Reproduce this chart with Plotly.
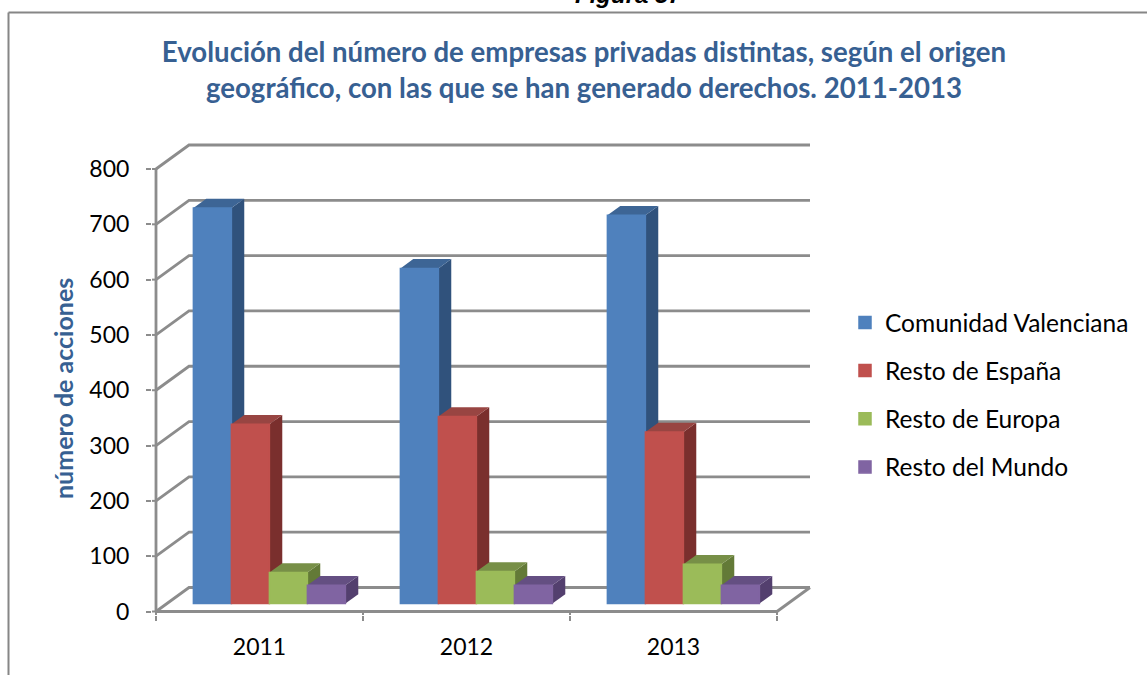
import plotly.graph_objects as go

years = ["2011", "2012", "2013"]
series_names = ["Comunidad Valenciana", "Resto de España", "Resto de Europa", "Resto del Mundo"]
comunidad = [715, 606, 702]
resto_espana = [324, 338, 310]
resto_europa = [56, 58, 71]
resto_mundo = [33, 33, 33]
series_values = [comunidad, resto_espana, resto_europa, resto_mundo]
y_ticks = [0, 100, 200, 300, 400, 500, 600, 700, 800]

front_colors = ["#4F81BD", "#C0504D", "#9BBB59", "#8064A2"]
side_colors = ["#30527C", "#7A2F2D", "#637A37", "#533F6E"]
top_colors = ["#3D6595", "#984542", "#778F47", "#644F82"]
TITLE_COLOR = "#376092"
GRID = "#8C8C8C"

W, H = 1147, 675
X0_PX, Y0_PX = 156, 611.5       # pixel of the axes origin (front corner)
L, R, T, B = 152, 815, 140, 615
PX_PER_CAT = 207
PX_PER_VAL = 442.5 / 800
DX = 33 / PX_PER_CAT      # depth of the 3D box, category units
DY = 24 / PX_PER_VAL      # depth of the 3D box, value units
D0, D1 = 0.33, 0.72       # depth span of the bars
BAR_W = 0.1836
START = 0.128

xr = [(L - X0_PX) / PX_PER_CAT, (R - X0_PX) / PX_PER_CAT]
yr = [(Y0_PX - B) / PX_PER_VAL, (Y0_PX - T) / PX_PER_VAL]

fig = go.Figure()

# walls
gx, gy = [], []
for v in y_ticks:
    gx += [0, DX, 3 + DX, None]
    gy += [v, v + DY, v + DY, None]
gx += [0, 0, None, 0, 3, None, 3, 3 + DX, None]
gy += [0, 800, None, 0, 0, None, 0, DY, None]
fig.add_trace(go.Scatter(x=gx, y=gy, mode="lines", line=dict(color=GRID, width=2.8),
                         showlegend=False, hoverinfo="skip"))
# short stubs joining the native ticks to the axis lines
sx, sy = [], []
for v in y_ticks:
    sx += [xr[0], 0, None]
    sy += [v, v, None]
for c in [0, 1, 2, 3]:
    sx += [c, c, None]
    sy += [yr[0], 0, None]
fig.add_trace(go.Scatter(x=sx, y=sy, mode="lines", line=dict(color=GRID, width=2),
                         showlegend=False, hoverinfo="skip"))


def left(i, j):
    return i + START + j * BAR_W


# side faces, then top faces
for j, vals in enumerate(series_values):
    for i, v in enumerate(vals):
        xr0 = left(i, j) + BAR_W
        ex = (D1 - D0) * DX
        ey = (D1 - D0) * DY
        fx0 = D0 * DX
        fy0 = D0 * DY
        fig.add_trace(go.Scatter(
            x=[xr0 + fx0, xr0 + fx0 + ex, xr0 + fx0 + ex, xr0 + fx0, xr0 + fx0],
            y=[fy0, fy0 + ey, fy0 + ey + v, fy0 + v, fy0],
            mode="lines", fill="toself", fillcolor=side_colors[j], line=dict(width=0),
            showlegend=False, hoverinfo="skip"))
for j, vals in enumerate(series_values):
    for i, v in enumerate(vals):
        x0 = left(i, j) + D0 * DX
        ex = (D1 - D0) * DX
        ey = (D1 - D0) * DY
        fy0 = D0 * DY
        fig.add_trace(go.Scatter(
            x=[x0, x0 + BAR_W, x0 + BAR_W + ex, x0 + ex, x0],
            y=[fy0 + v, fy0 + v, fy0 + v + ey, fy0 + v + ey, fy0 + v],
            mode="lines", fill="toself", fillcolor=top_colors[j], line=dict(width=0),
            showlegend=False, hoverinfo="skip"))

# front faces: real bars on an overlaying axis so they paint on top
for j, (name, vals) in enumerate(zip(series_names, series_values)):
    fig.add_trace(go.Bar(
        name=name, legendgroup=name,
        x=[left(i, j) + BAR_W / 2 + D0 * DX for i in range(len(years))],
        y=vals, base=[D0 * DY] * len(years), width=BAR_W,
        marker=dict(color=front_colors[j], line=dict(width=1.5, color=front_colors[j])),
        yaxis="y2"))

fx = lambda px: (px - L) / (R - L)
fy_ = lambda py: (B - py) / (B - T)

fig.update_layout(
    width=W, height=H, autosize=False,
    margin=dict(l=L, r=W - R, t=T, b=H - B, autoexpand=False, pad=0),
    paper_bgcolor="white", plot_bgcolor="rgba(0,0,0,0)",
    barmode="overlay",
    font=dict(family="Lato, Carlito, sans-serif", color="#000000", size=22),
    title=dict(
        text="<b>Evolución del número de empresas privadas distintas, según el origen<br>"
             "geográfico, con las que se han generado derechos. 2011-2013</b>",
        x=584 / W, xref="container", xanchor="center",
        y=1 - 62 / H, yref="container", yanchor="middle",
        font=dict(size=27.6, color=TITLE_COLOR, family="Lato, Carlito, sans-serif")),
    xaxis=dict(range=xr, showgrid=False, zeroline=False, showline=False,
               tickmode="array", tickvals=[0.5, 1.5, 2.5], ticktext=years,
               ticks="", tickfont=dict(size=23), ticklabelstandoff=16,
               minor=dict(ticks="outside", tickmode="array", tickvals=[0, 1, 2, 3],
                          ticklen=5, tickwidth=2, tickcolor=GRID)),
    yaxis=dict(range=yr, showgrid=False, zeroline=False, showline=False,
               tickmode="array", tickvals=y_ticks, ticks="outside", ticklen=5,
               tickwidth=2, tickcolor=GRID, tickfont=dict(size=23), ticklabelstandoff=12),
    yaxis2=dict(range=yr, overlaying="y", visible=False),
    legend=dict(x=fx(845), y=fy_(300), xanchor="left", yanchor="top",
                font=dict(size=24.5), tracegroupgap=13.3, bgcolor="rgba(0,0,0,0)",
                itemclick=False, itemdoubleclick=False),
    annotations=[
        dict(text="<b>número de acciones</b>", xref="paper", yref="paper",
             x=fx(63), y=fy_(389), textangle=-90, showarrow=False,
             xanchor="center", yanchor="middle",
             font=dict(size=25, color=TITLE_COLOR)),
        dict(text="<b><i>Figura 37</i></b>", xref="paper", yref="paper",
             x=fx(629), y=fy_(10), showarrow=False, xanchor="center", yanchor="bottom",
             font=dict(size=24, color="#000000", family="Liberation Sans, Arial, sans-serif")),
    ],
    shapes=[
        dict(type="line", xref="paper", yref="paper", x0=fx(8.5), x1=fx(1147), y0=fy_(12.5), y1=fy_(12.5),
             line=dict(color="#868686", width=2)),
        dict(type="line", xref="paper", yref="paper", x0=fx(8.5), x1=fx(8.5), y0=fy_(12.5), y1=fy_(675),
             line=dict(color="#868686", width=2)),
    ],
)

fig.write_html("out.html", config={"displayModeBar": False},
               post_script="document.body.style.margin='0';document.body.style.overflow='hidden';")
